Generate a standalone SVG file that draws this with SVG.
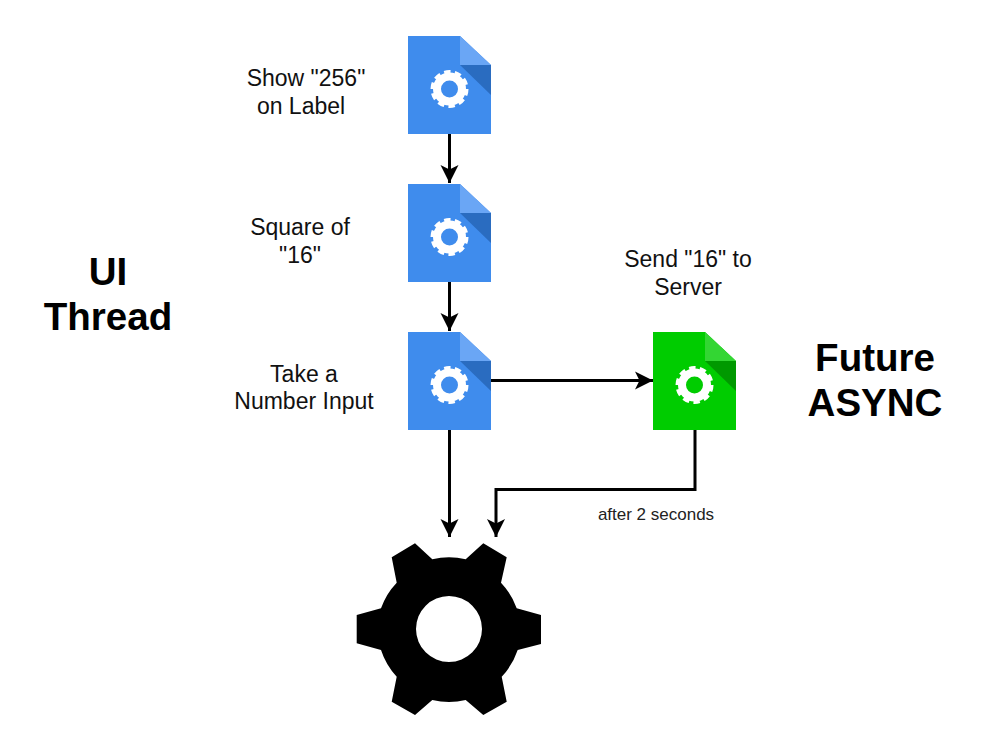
<svg xmlns="http://www.w3.org/2000/svg" width="1000" height="744" viewBox="0 0 1000 744">
<style>
text{font-family:"Liberation Sans",Arial,sans-serif;fill:#000;text-anchor:middle}
.lbl{font-size:23px;fill:#111}
.big{font-size:38.500px;font-weight:bold}
.small{font-size:17px;fill:#222}
.conn{fill:none;stroke:#000;stroke-width:3}
</style>
<defs>
<marker id="arrow" markerUnits="userSpaceOnUse" markerWidth="20" markerHeight="20" refX="18" refY="10" orient="auto">
<path d="M0 1L18 10L0 19L4.500 10Z" fill="#000"/>
</marker>
<g id="cog">
<circle cx="0" cy="0" r="12.500" fill="none" stroke="#fff" stroke-width="8"/>
<circle cx="0" cy="0" r="17" fill="none" stroke="#fff" stroke-width="4" pathLength="100" stroke-dasharray="6 4"/>
</g>
</defs>
<rect width="1000" height="744" fill="#fff"/>
<g id="connectors">
<path class="conn" d="M449.500 134V183" marker-end="url(#arrow)"/>
<path class="conn" d="M449.500 282V331" marker-end="url(#arrow)"/>
<path class="conn" d="M491 380.500H653" marker-end="url(#arrow)"/>
<path class="conn" d="M449.500 430V537" marker-end="url(#arrow)"/>
<path class="conn" d="M695 430V489.500H496V537" marker-end="url(#arrow)"/>
</g>
<g id="node-show">
<path d="M408 36H460L491 65V134H408Z" fill="#3f8ced"/>
<path d="M460 36L491 65H460Z" fill="#6aa6f5"/>
<path d="M460 65H491V95Z" fill="#2a6cc0"/>
<use href="#cog" x="449.500" y="89"/>
<text class="lbl" x="306" y="86">Show "256"</text>
<text class="lbl" x="301" y="114">on Label</text>
</g>
<g id="node-square">
<path d="M408 184H460L491 213V282H408Z" fill="#3f8ced"/>
<path d="M460 184L491 213H460Z" fill="#6aa6f5"/>
<path d="M460 213H491V243Z" fill="#2a6cc0"/>
<use href="#cog" x="449.500" y="237"/>
<text class="lbl" x="300" y="235">Square of</text>
<text class="lbl" x="300" y="263">"16"</text>
</g>
<g id="node-input">
<path d="M408 332H460L491 361V430H408Z" fill="#3f8ced"/>
<path d="M460 332L491 361H460Z" fill="#6aa6f5"/>
<path d="M460 361H491V391Z" fill="#2a6cc0"/>
<use href="#cog" x="449.500" y="385"/>
<text class="lbl" x="304" y="382">Take a</text>
<text class="lbl" x="304" y="409">Number Input</text>
</g>
<g id="node-send">
<path d="M653 332H705L736 361V430H653Z" fill="#00cc00"/>
<path d="M705 332L736 361H705Z" fill="#33d633"/>
<path d="M705 361H736V391Z" fill="#009900"/>
<use href="#cog" x="694.500" y="385"/>
<text class="lbl" x="688" y="267">Send "16" to</text>
<text class="lbl" x="688" y="295">Server</text>
</g>
<g id="node-engine">
<path fill="#000" fill-rule="evenodd" d="M465.700 559.300L483.300 543.300L506.700 557.300L501 582.700A72 72 0 0 1 516.700 608.300L541 615V644L517.700 650A72 72 0 0 1 501.700 676.700L506.700 701.700L483.300 715L465.700 700A72 72 0 0 1 432.300 700L415 715L391.700 701.700L396.700 676.700A72 72 0 0 1 381 650L356.700 643.300V615L381 608.300A72 72 0 0 1 396.700 582.700L391.700 557.300L415 543.300L432.300 559.300A72 72 0 0 1 465.700 559.300ZM482 629A33 33 0 1 0 416 629A33 33 0 1 0 482 629Z"/>
</g>
<g id="label-ui">
<text class="big" x="108" y="285">UI</text>
<text class="big" x="108" y="330">Thread</text>
</g>
<g id="label-future">
<text class="big" x="875" y="371">Future</text>
<text class="big" x="875" y="416">ASYNC</text>
</g>
<text class="small" x="656" y="520">after 2 seconds</text>
</svg>
